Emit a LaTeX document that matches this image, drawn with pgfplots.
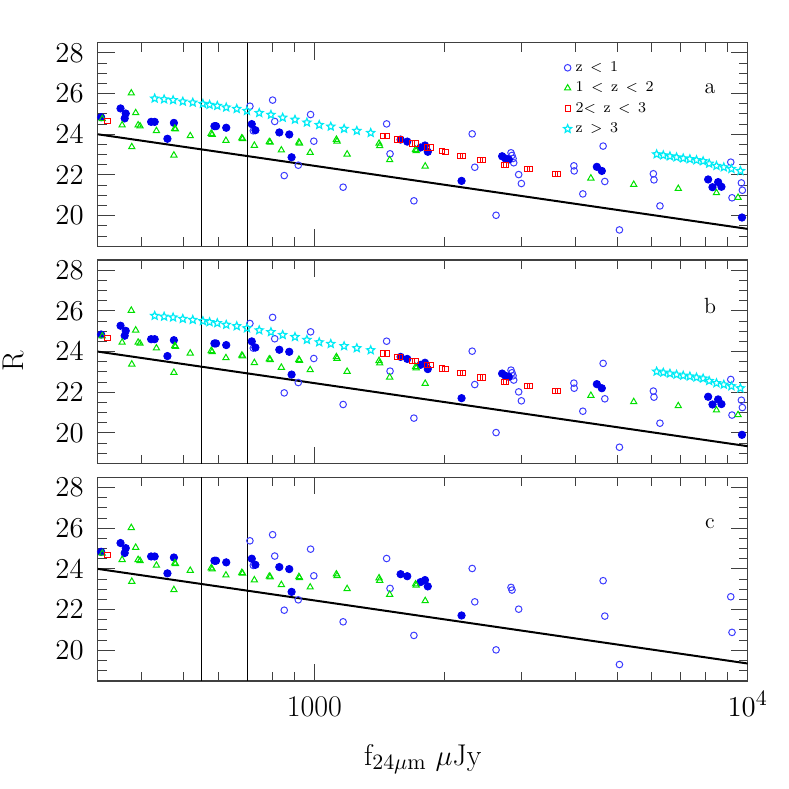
\documentclass[border=0pt]{standalone}
\usepackage{pgfplots}
\usepackage{pgfplotstable}
\pgfplotsset{compat=1.18}

\definecolor{ocirc}{RGB}{60,60,255}
\definecolor{fcirc}{RGB}{0,0,235}
\definecolor{tgreen}{RGB}{0,225,0}
\definecolor{sred}{RGB}{255,0,0}
\definecolor{scyan}{RGB}{0,235,245}

\pgfdeclareplotmark{ostar}{%
\pgfpathmoveto{\pgfpointpolar{90}{\pgfplotmarksize}}%
\pgfpathlineto{\pgfpointpolar{126}{0.45\pgfplotmarksize}}%
\pgfpathlineto{\pgfpointpolar{162}{\pgfplotmarksize}}%
\pgfpathlineto{\pgfpointpolar{198}{0.45\pgfplotmarksize}}%
\pgfpathlineto{\pgfpointpolar{234}{\pgfplotmarksize}}%
\pgfpathlineto{\pgfpointpolar{270}{0.45\pgfplotmarksize}}%
\pgfpathlineto{\pgfpointpolar{306}{\pgfplotmarksize}}%
\pgfpathlineto{\pgfpointpolar{342}{0.45\pgfplotmarksize}}%
\pgfpathlineto{\pgfpointpolar{18}{\pgfplotmarksize}}%
\pgfpathlineto{\pgfpointpolar{54}{0.45\pgfplotmarksize}}%
\pgfpathclose\pgfusepathqstroke}

\pgfplotstableread{
x y
710 25.38
801 25.68
810 24.63
723 24.17
980 24.97
997 23.66
852 21.97
918 22.48
1165 21.40
1468 24.51
1495 23.04
1697 20.73
2313 24.02
2345 22.38
2626 20.02
2843 23.09
2858 22.96
2961 22.02
4638 23.42
4680 21.68
5058 19.30
9139 22.63
9200 20.88
}\opencom
\pgfplotstableread{
x y
2874 22.81
2884 22.60
3004 21.58
3971 22.45
3978 22.20
4164 21.07
6057 22.06
6077 21.76
6273 20.48
9670 21.61
9720 21.25
}\openext
\pgfplotstableread{
x y
322 24.84
357 25.27
367 25.02
365 24.78
420 24.61
428 24.61
474 24.56
458 23.78
588 24.40
593 24.40
626 24.32
717 24.50
731 24.20
830 24.09
875 23.99
886 22.87
1581 23.74
1638 23.64
1758 23.35
1800 23.45
1827 23.14
2186 21.71
}\fillcom
\pgfplotstableread{
x y
2712 22.92
2759 22.81
2809 22.76
4486 22.40
4606 22.20
8104 21.78
8293 21.40
8546 21.65
8698 21.42
9700 19.91
}\fillext
\pgfplotstableread{
x y
324 24.76
378 26.02
387 25.05
360 24.45
379 23.38
392 24.45
396 24.40
432 24.17
474 22.97
476 24.28
478 24.25
517 23.92
578 24.04
581 23.99
625 23.69
680 23.81
683 23.78
727 23.45
787 23.63
791 23.60
839 23.22
921 23.61
924 23.56
978 23.10
1124 23.74
1128 23.66
1190 23.02
1410 23.55
1415 23.43
1492 22.74
1712 23.25
1718 23.19
1802 22.43
}\tricom
\pgfplotstableread{
x y
4346 21.84
5457 21.53
6915 21.33
8471 21.12
9500 20.89
}\triext
\pgfplotstableread{
x y
333 24.67
}\sqcom
\pgfplotstableread{
x y
1443 23.91
1474 23.91
1549 23.74
1576 23.74
1682 23.55
1712 23.55
1822 23.35
1854 23.35
1973 23.17
2008 23.14
2165 22.94
2201 22.94
2416 22.73
2448 22.73
2735 22.51
2773 22.51
3095 22.30
3139 22.30
3596 22.06
3647 22.06
}\sqext
\pgfplotstableread{
x y
428 25.76
450 25.72
472 25.68
497 25.61
524 25.56
553 25.50
573 25.45
597 25.40
626 25.32
662 25.25
699 25.15
746 25.05
794 24.96
845 24.82
902 24.72
961 24.58
1026 24.46
1091 24.38
1171 24.27
1253 24.17
1349 24.07
6164 23.02
6386 22.97
6616 22.92
6852 22.87
7099 22.82
7355 22.78
7619 22.73
7892 22.68
8148 22.56
8471 22.45
8807 22.38
9171 22.30
9620 22.20
}\stars

\newcommand\tickfont{\fontsize{15}{15}\selectfont}
\newcommand\lsp{\hspace{0.5em}}
\tikzset{
 mkopen/.style={mark=o, mark size=1.65pt, color=ocirc, line width=0.5pt},
 mkfill/.style={mark=*, mark size=1.85pt, color=fcirc, mark options={draw=fcirc, fill=fcirc}},
 mktri/.style={mark=triangle, mark size=1.8pt, color=tgreen, line width=0.5pt},
 mksq/.style={mark=square, mark size=1.3pt, color=sred, line width=0.5pt},
 mkstar/.style={mark=ostar, mark size=2.1pt, color=scyan, line width=0.6pt},
}
\newcommand\nolegend[1]{}
\newcommand\guides{%
 \addplot[black, line width=0.4pt, forget plot] coordinates {(550,18.5) (550,28.5)};
 \addplot[black, line width=0.4pt, forget plot] coordinates {(700,18.5) (700,28.5)};
 \addplot[black, line width=1pt, forget plot] coordinates {(316.23,24.0) (10000,19.35)};
}
\newcommand\plotall[1]{%
 \guides
 \addplot[only marks, mkopen] table {\opencom}; #1{z\lsp$<$\lsp1}
 \addplot[only marks, mkopen, forget plot] table {\openext};
 \addplot[only marks, mkfill, forget plot] table {\fillcom};
 \addplot[only marks, mkfill, forget plot] table {\fillext};
 \addplot[only marks, mktri] table {\tricom}; #1{1\lsp$<$\lsp z\lsp$<$\lsp2}
 \addplot[only marks, mktri, forget plot] table {\triext};
 \addplot[only marks, mksq] table {\sqcom}; #1{2$<$\lsp z\lsp$<$\lsp3}
 \addplot[only marks, mksq, forget plot] table {\sqext};
 \addplot[only marks, mkstar] table {\stars}; #1{z\lsp$>$\lsp3}
}
\pgfplotsset{every axis/.append style={
  xmode=log, xmin=316.23, xmax=10000, ymin=18.5, ymax=28.5,
  scale only axis, width=325pt, height=101.75pt, anchor=north west,
  xtick={1000,10000},
  minor xtick={400,500,600,700,800,900,2000,3000,4000,5000,6000,7000,8000,9000},
  ytick={20,22,24,26,28},
  minor ytick={19,19.5,20.5,21,21.5,22.5,23,23.5,24.5,25,25.5,26.5,27,27.5},
  tick align=inside, major tick length=8.5pt, minor tick length=4.5pt,
  axis line style={black!75, line width=0.7pt},
  every tick/.append style={black!75, line width=0.5pt},
  yticklabel style={font=\tickfont, xshift=-3.5pt},
  xticklabel style={font=\tickfont, anchor=base, yshift=-17.6pt},
}}

\begin{document}
\begin{tikzpicture}
\path[use as bounding box] (0,0) rectangle (394.5pt,-394.5pt);

\begin{axis}[at={(48.85pt,-21.35pt)}, xticklabels={},
  legend cell align=left,
  legend style={draw=none, fill=none, at={(0.707,0.95)}, anchor=north west,
    font=\fontsize{7.5}{8}\selectfont, row sep=-0.3pt}]
 \plotall{\addlegendentry}
 \node[font=\fontsize{11}{11}\selectfont] at (rel axis cs:0.942,0.7725) {a};
\end{axis}

\begin{axis}[at={(48.85pt,-130pt)}, xticklabels={},
  ylabel={R}, ylabel style={font=\fontsize{15}{15}\selectfont, at={(axis description cs:-0.1295,0.5)}, anchor=center}]
 \plotall{\nolegend}
 \node[font=\fontsize{11}{11}\selectfont] at (rel axis cs:0.942,0.7725) {b};
\end{axis}

\begin{axis}[at={(48.85pt,-238.65pt)},
  xticklabels={1000,$10^4$},
  xlabel={f$_{24\mu\mathrm{m}}$ $\mu$Jy},
  xlabel style={font=\tickfont, at={(axis description cs:0.5,-0.385)}, anchor=center}]
 \guides
 \addplot[only marks, mkopen] table {\opencom};
 \addplot[only marks, mkfill] table {\fillcom};
 \addplot[only marks, mktri] table {\tricom};
 \addplot[only marks, mksq] table {\sqcom};
 \node[font=\fontsize{11}{11}\selectfont] at (rel axis cs:0.942,0.7725) {c};
\end{axis}
\end{tikzpicture}
\end{document}
